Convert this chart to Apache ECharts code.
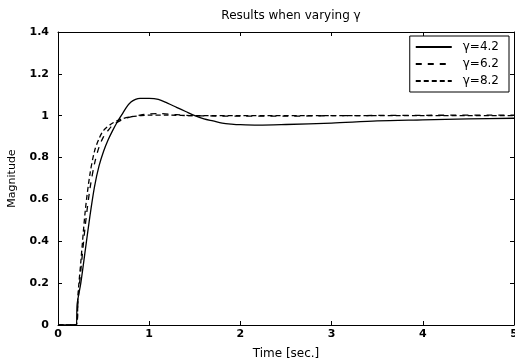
<!DOCTYPE html>
<html><head><meta charset="utf-8">
<script src="https://cdn.jsdelivr.net/npm/echarts@6/dist/echarts.min.js"></script>
<style>html,body{margin:0;padding:0;background:#fff}#c{width:515px;height:361px}</style>
</head><body><div id="c"></div>
<script>
const titleText = 'Results when varying \u03b3';
const xLabel = 'Time [sec.]';
const yLabel = 'Magnitude';
const seriesNames = ['\u03b3=4.2', '\u03b3=6.2', '\u03b3=8.2'];

const t42 = [0, 0.2, 0.21, 0.25, 0.3, 0.35, 0.4, 0.45, 0.5, 0.55, 0.6, 0.65, 0.7, 0.75, 0.8, 0.85, 0.9, 1.0, 1.1, 1.2, 1.3, 1.4, 1.5, 1.6, 1.7, 1.8, 1.9, 2.0, 2.2, 2.5, 3.0, 3.5, 4.0, 4.5, 5.0];
const y42 = [0, 0, 0.1, 0.2, 0.36, 0.52, 0.66, 0.76, 0.83, 0.885, 0.93, 0.97, 1.005, 1.04, 1.065, 1.078, 1.083, 1.083, 1.078, 1.06, 1.04, 1.02, 1.0, 0.985, 0.975, 0.965, 0.96, 0.957, 0.955, 0.958, 0.965, 0.975, 0.98, 0.985, 0.988];

const t62 = [0, 0.2, 0.22, 0.25, 0.3, 0.35, 0.4, 0.45, 0.5, 0.55, 0.6, 0.7, 0.8, 0.9, 1.0, 1.1, 1.3, 1.5, 2.0, 2.5, 3.0, 4.0, 5.0];
const y62 = [0, 0, 0.12, 0.26, 0.48, 0.65, 0.77, 0.85, 0.9, 0.93, 0.955, 0.98, 0.995, 1.003, 1.008, 1.01, 1.005, 1.0, 0.998, 0.998, 1.0, 1.002, 1.003];

const t82 = [0, 0.2, 0.22, 0.25, 0.3, 0.35, 0.4, 0.45, 0.5, 0.6, 0.7, 0.8, 0.9, 1.0, 1.2, 1.5, 2.0, 3.0, 4.0, 5.0];
const y82 = [0, 0, 0.15, 0.3, 0.55, 0.72, 0.83, 0.89, 0.93, 0.965, 0.985, 0.995, 1.0, 1.003, 1.003, 1.0, 1.0, 1.0, 1.0, 1.0];

const xTicks = [0, 1, 2, 3, 4, 5];
const yTicks = [0, 0.2, 0.4, 0.6, 0.8, 1, 1.2, 1.4];

function pairs(t, y) { return t.map((v, i) => [v, y[i]]); }

const font = 'DejaVu Sans, Liberation Sans, sans-serif';
const chart = echarts.init(document.getElementById('c'), null, {renderer: 'canvas'});
const axisCommon = {
  axisLine: {show: true, onZero: false, lineStyle: {color: '#000', width: 1}},
  axisTick: {show: true, inside: true, length: 4, lineStyle: {color: '#000'}},
  splitLine: {show: false}
};
chart.setOption({
  animation: false,
  backgroundColor: '#fff',
  title: {
    text: titleText, left: 286, top: 5, textAlign: 'center',
    textStyle: {fontFamily: font, fontSize: 12, fontWeight: 'normal', color: '#000'}
  },
  grid: {left: 58, right: 1, top: 32, bottom: 36, outerBoundsMode: 'none', containLabel: false},
  legend: {
    orient: 'vertical', right: 6, top: 36,
    data: seriesNames,
    backgroundColor: '#fff', borderColor: '#000', borderWidth: 1,
    padding: [5, 10, 5, 5], itemGap: 5, itemWidth: 36, itemHeight: 12,
    itemStyle: {opacity: 0},
    textStyle: {fontFamily: font, fontSize: 12, color: '#000', padding: [0, 0, 0, 6]}
  },
  xAxis: [
    Object.assign({}, axisCommon, {
      type: 'value', min: 0, max: 5, interval: 1,
      name: xLabel, nameLocation: 'middle', nameGap: 23,
      nameTextStyle: {fontFamily: font, fontSize: 12, color: '#000'},
      axisLabel: {fontFamily: font, fontSize: 11, fontWeight: 'bold', color: '#000', margin: 4,
        formatter: v => xTicks.includes(v) ? String(v) : ''}
    }),
    Object.assign({}, axisCommon, {
      type: 'value', min: 0, max: 5, interval: 1, position: 'top',
      axisLabel: {show: false}
    })
  ],
  yAxis: [
    Object.assign({}, axisCommon, {
      type: 'value', min: 0, max: 1.4, interval: 0.2,
      name: yLabel, nameLocation: 'middle', nameGap: 40,
      nameTextStyle: {fontFamily: font, fontSize: 11, color: '#000'},
      axisLabel: {fontFamily: font, fontSize: 11, fontWeight: 'bold', color: '#000', margin: 9,
        formatter: v => { const r = yTicks.find(k => Math.abs(k - v) < 1e-9); return r === undefined ? '' : String(r); }}
    }),
    Object.assign({}, axisCommon, {
      type: 'value', min: 0, max: 1.4, interval: 0.2, position: 'right',
      axisLabel: {show: false}
    })
  ],
  series: [
    {name: seriesNames[0], type: 'line', data: pairs(t42, y42), symbol: 'none', smooth: 0.3,
      lineStyle: {color: '#000', width: 1.3, type: 'solid'}, itemStyle: {color: '#000'}},
    {name: seriesNames[1], type: 'line', data: pairs(t62, y62), symbol: 'none', smooth: 0.3,
      lineStyle: {color: '#000', width: 1.3, type: [6, 6]}, itemStyle: {color: '#000'}},
    {name: seriesNames[2], type: 'line', data: pairs(t82, y82), symbol: 'none', smooth: 0.3,
      lineStyle: {color: '#000', width: 1.3, type: [5, 3]}, itemStyle: {color: '#000'}}
  ]
});
</script></body></html>
